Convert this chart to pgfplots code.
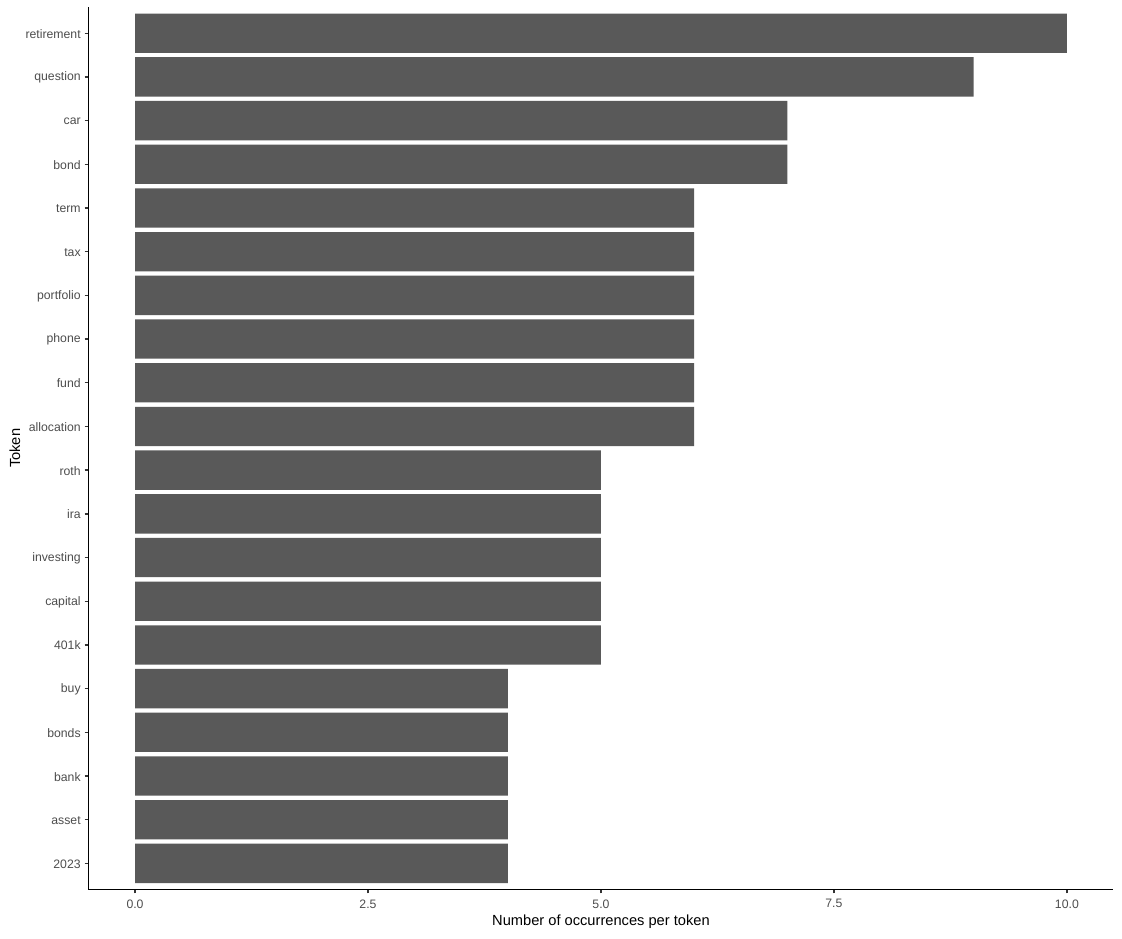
\documentclass[border=0pt]{standalone}
\usepackage{pgfplots}
\pgfplotsset{compat=1.18}
\usepackage{fontspec}
\setmainfont{Liberation Sans}
\usetikzlibrary{calc}
\definecolor{barfill}{HTML}{595959}
\definecolor{ticktext}{HTML}{4D4D4D}
\definecolor{tickline}{HTML}{333333}
\begin{document}
\begin{tikzpicture}
\begin{axis}[
    name=ax,
    scale only axis,
    width=769.5pt,
    height=662.6pt,
    xbar,
    bar width=0.9,
    bar shift=0pt,
    xmin=-0.5, xmax=10.5,
    ymin=-0.6, ymax=19.6,
    axis x line*=bottom,
    axis y line*=left,
    axis line style={black, line width=0.8pt, -},
    xtick={0,2.5,5,7.5,10},
    /pgf/number format/fixed,
    /pgf/number format/fixed zerofill,
    /pgf/number format/precision=1,
    /pgf/number format/assume math mode=true,
    ytick={0,...,19},
    yticklabels={2023,asset,bank,bonds,buy,401k,capital,investing,ira,roth,allocation,fund,phone,portfolio,tax,term,bond,car,question,retirement},
    tick style={tickline, line width=1pt},
    tick align=outside,
    major tick length=2.9pt,
    ticklabel style={font=\fontsize{9.2}{11}\selectfont, text=ticktext},
    xticklabel style={yshift=-1pt},
    yticklabel style={xshift=0.6pt, yshift=-0.5pt},
    xlabel={Number of occurrences per token},
    ylabel={Token},
    label style={font=\fontsize{11}{13}\selectfont},
    xlabel style={yshift=2pt},
    ylabel style={yshift=-3pt},
]
\addplot[fill=barfill, draw=none] coordinates {
    (4,0) (4,1) (4,2) (4,3) (4,4)
    (5,5) (5,6) (5,7) (5,8) (5,9)
    (6,10) (6,11) (6,12) (6,13) (6,14) (6,15)
    (7,16) (7,17) (9,18) (10,19)
};
\end{axis}
\pgfresetboundingbox
\path ($(ax.south west)+(-66.4pt,-36.75pt)$) rectangle ($(ax.north east)+(6.4pt,5.25pt)$);
\end{tikzpicture}
\end{document}
